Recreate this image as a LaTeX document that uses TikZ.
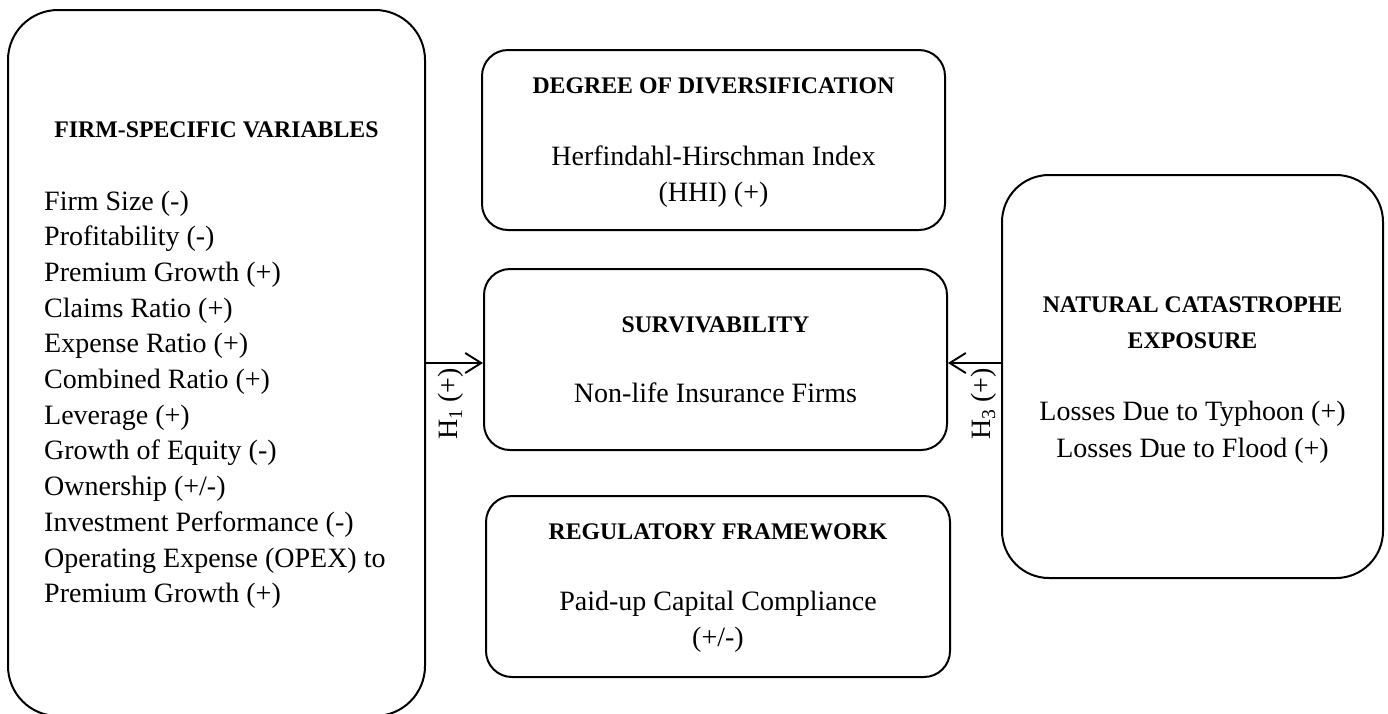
\documentclass[tikz,border=0pt]{standalone}
\usepackage{fontspec}
\setmainfont{Liberation Serif}
\usetikzlibrary{arrows.meta}
\begin{document}
\begin{tikzpicture}[x=1pt,y=-1pt,
  box/.style={draw, line width=2pt, rounded corners=26pt, inner sep=0pt},
  bigbox/.style={box, rounded corners=50pt},
  head/.style={font=\fontsize{23.8}{30}\selectfont\bfseries, anchor=base, inner sep=0pt},
  body/.style={font=\fontsize{28}{36}\selectfont, anchor=base, inner sep=0pt},
  arr/.style={line width=1.9pt, -{Straight Barb[length=16pt,width=20pt,line width=1.9pt]}}
]
\useasboundingbox (0,0) rectangle (1388,713);
% boxes
\node[bigbox, minimum width=417pt, minimum height=706pt] (firm) at (216.5,363) {};
\node[box, minimum width=463pt, minimum height=180pt] (div) at (713.5,140) {};
\node[box, minimum width=463pt, minimum height=181pt] (surv) at (715.5,359.5) {};
\node[box, minimum width=464pt, minimum height=181pt] (reg) at (718,586.5) {};
\node[bigbox, rounded corners=47pt, minimum width=381pt, minimum height=403pt] (nat) at (1192.5,376.5) {};
% firm-specific
\node[head] (firmh) at (216.5,137) {FIRM-SPECIFIC VARIABLES};
\foreach \t [count=\i] in {Firm Size (-), Profitability (-), Premium Growth (+), Claims Ratio (+), Expense Ratio (+), Combined Ratio (+), Leverage (+), Growth of Equity (-), Ownership (+/-), Investment Performance (-), Operating Expense (OPEX) to, Premium Growth (+)}
  \node[body, anchor=base west] (f\i) at (44,{210+(\i-1)*35.7}) {\t};
% diversification
\node[head] (divh) at (713.5,93) {DEGREE OF DIVERSIFICATION};
\node[body] (div1) at (713.5,165) {Herfindahl-Hirschman Index};
\node[body] (div2) at (713.5,201) {(HHI) (+)};
% survivability
\node[head] (survh) at (715.5,332) {SURVIVABILITY};
\node[body] (surv1) at (715.5,402) {Non-life Insurance Firms};
% regulatory
\node[head] (regh) at (718,539) {REGULATORY FRAMEWORK};
\node[body] (reg1) at (718,610) {Paid-up Capital Compliance};
\node[body] (reg2) at (718,646) {(+/-)};
% natural catastrophe
\node[head] (nath1) at (1192.5,312) {NATURAL CATASTROPHE};
\node[head] (nath2) at (1192.5,348) {EXPOSURE};
\node[body] (nat1) at (1192.5,420) {Losses Due to Typhoon (+)};
\node[body] (nat2) at (1192.5,457) {Losses Due to Flood (+)};
% connectors
\coordinate (lvl) at (0,363);
\draw[arr] (firm.east |- lvl) -- (surv.west |- lvl);
\draw[arr] (nat.west |- lvl) -- (surv.east |- lvl);
\node[body, anchor=center, rotate=90] (h1) at (451,404) {H\textsubscript{1} (+)};
\node[body, anchor=center, rotate=90] (h3) at (984,404) {H\textsubscript{3} (+)};
\end{tikzpicture}
\end{document}
